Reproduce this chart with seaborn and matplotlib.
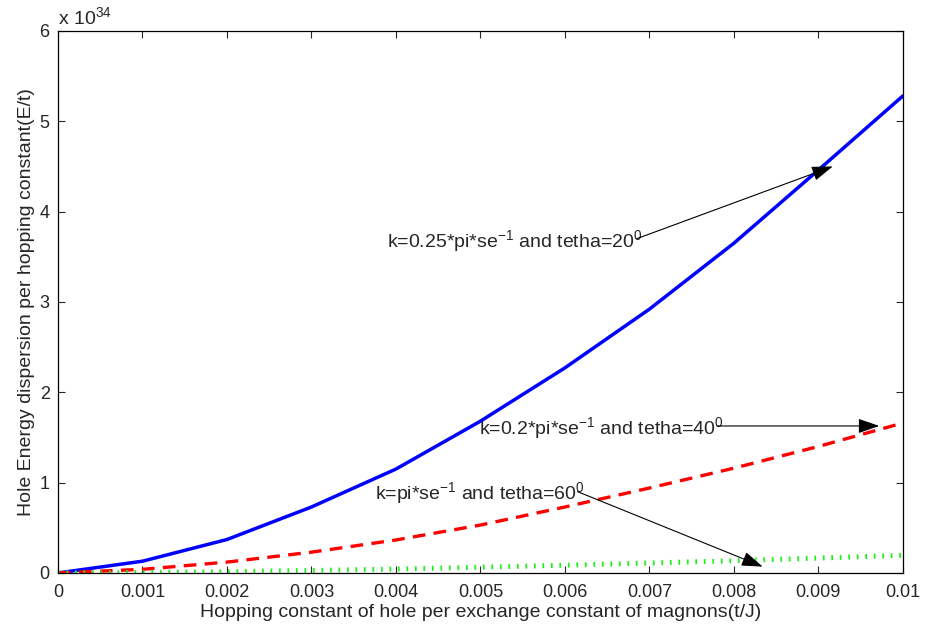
import numpy as np
import pandas as pd
import matplotlib
matplotlib.use('Agg')
import matplotlib.pyplot as plt
import seaborn as sns

# hopping constant t/J
x_vals = [0, 0.001, 0.002, 0.003, 0.004, 0.005, 0.006, 0.007, 0.008, 0.009, 0.01]
# hole energy dispersion, in units of 1e34
e_k025_t20 = [0, 0.13, 0.37, 0.73, 1.15, 1.68, 2.27, 2.92, 3.65, 4.46, 5.28]
e_k02_t40 = [0, 0.04, 0.12, 0.23, 0.365, 0.53, 0.73, 0.94, 1.16, 1.40, 1.66]
e_k1_t60 = [0, 0.005, 0.014, 0.027, 0.043, 0.063, 0.086, 0.11, 0.135, 0.165, 0.195]

x_ticks = [0, 0.001, 0.002, 0.003, 0.004, 0.005, 0.006, 0.007, 0.008, 0.009, 0.01]
x_ticklabels = ['0', '0.001', '0.002', '0.003', '0.004', '0.005', '0.006', '0.007', '0.008', '0.009', '0.01']
y_ticks = [0, 1, 2, 3, 4, 5, 6]

df = pd.DataFrame({'x': x_vals, 'a': e_k025_t20, 'b': e_k02_t40, 'c': e_k1_t60})

sns.set_style('ticks')
plt.rcParams['font.family'] = ['Liberation Sans', 'DejaVu Sans']
plt.rcParams['mathtext.default'] = 'regular'
plt.rcParams['axes.unicode_minus'] = True

fig = plt.figure(figsize=(9.26, 6.31), dpi=100)
ax = fig.add_axes([0.0626, 0.092, 0.9124, 0.859])

sns.lineplot(data=df, x='x', y='a', ax=ax, color='#0000ff', linewidth=2.5)
sns.lineplot(data=df, x='x', y='b', ax=ax, color='#ff0000', linewidth=2.4,
             linestyle=(0, (3.8, 2.5)))
sns.lineplot(data=df, x='x', y='c', ax=ax, color='#22ee22', linewidth=3.6,
             linestyle=(0, (0.35, 1.35)))

ax.set_xlim(0, 0.01)
ax.set_ylim(0, 6)
ax.set_xticks(x_ticks)
ax.set_xticklabels(x_ticklabels)
ax.set_yticks(y_ticks)
ax.tick_params(direction='in', top=True, right=True, labelsize=13, length=5, width=0.8, pad=6)
ax.tick_params(axis='x', pad=8)
for s in ax.spines.values():
    s.set_linewidth(0.9)
    s.set_color('black')

ax.set_xlabel('Hopping constant of hole per exchange constant of magnons(t/J)', fontsize=14, labelpad=2)
ax.set_ylabel('Hole Energy dispersion per hopping constant(E/t)', fontsize=14, labelpad=3)
ax.text(0.0, 1.006, r'x 10$^{34}$', transform=ax.transAxes, fontsize=14, ha='left', va='bottom')

arrow = dict(arrowstyle='-|>,head_length=1.3,head_width=0.45', lw=0.8, color='black',
             shrinkA=0, shrinkB=0)
fs = 14
ax.text(0.00390, 3.61, r'k=0.25*pi*se$^{-1}$ and tetha=20$^0$', fontsize=fs, va='baseline')
ax.annotate('', xy=(0.00917, 4.50), xytext=(0.00685, 3.70), arrowprops=arrow)

ax.text(0.00498, 1.54, r'k=0.2*pi*se$^{-1}$ and tetha=40$^0$', fontsize=fs, va='baseline')
ax.annotate('', xy=(0.00972, 1.627), xytext=(0.0078, 1.627), arrowprops=arrow)

ax.text(0.00375, 0.82, r'k=pi*se$^{-1}$ and tetha=60$^0$', fontsize=fs, va='baseline')
ax.annotate('', xy=(0.00834, 0.07), xytext=(0.00615, 0.90), arrowprops=arrow)

fig.savefig('out.png', dpi=100)
